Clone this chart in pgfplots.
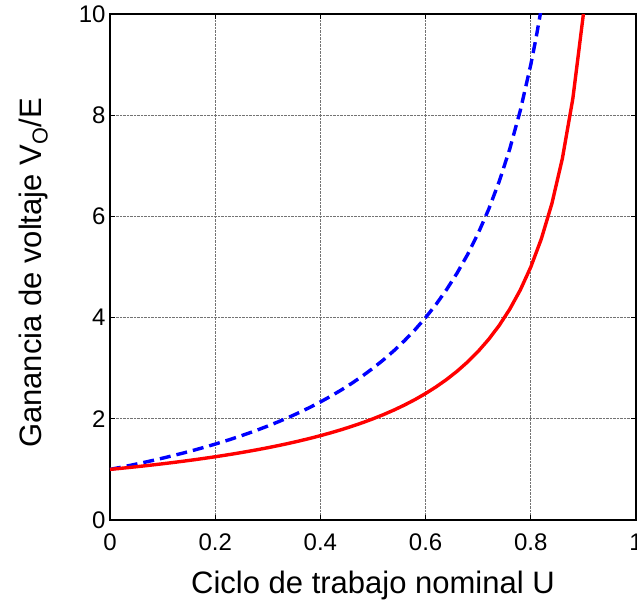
\documentclass[border=0pt]{standalone}
\usepackage{fontspec}
\setmainfont{Liberation Sans}
\usepackage{pgfplots}
\pgfplotsset{compat=1.18}
\begin{document}
\begin{tikzpicture}
\begin{scope}
\clip (-110pt,-80pt) rectangle (527pt,520pt);
\begin{axis}[
  at={(0pt,0pt)}, anchor=south west,
  width=526pt, height=506pt, scale only axis,
  xmin=0, xmax=1, ymin=0, ymax=10,
  xtick={0,0.2,0.4,0.6,0.8,1},
  xticklabels={0,0.2,0.4,0.6,0.8,1},
  ytick={0,2,4,6,8,10},
  yticklabels={0,2,4,6,8,10},
  tick align=inside, tick pos=both,
  major tick length=5pt,
  every tick/.style={black, line width=1pt},
  axis line style={black, line width=1.2pt},
  grid=major,
  major grid style={densely dotted, black!55, line width=0.9pt},
  tick label style={font=\fontsize{24}{28}\selectfont},
  xticklabel style={yshift=-10pt},
  yticklabel style={xshift=-1pt},
  label style={font=\fontsize{31}{36}\selectfont},
  xlabel={Ciclo de trabajo nominal U},
  ylabel={Ganancia de voltaje V\textsubscript{O}/E},
  xlabel style={yshift=-14pt},
  ylabel style={yshift=24pt, xshift=-6pt},
]
\addplot[blue, line width=3.4pt, dash pattern=on 11pt off 6pt] coordinates {
(0,1) (0.02,1.0408) (0.04,1.0833) (0.06,1.1277) (0.08,1.1739) (0.10,1.2222)
(0.12,1.2727) (0.14,1.3256) (0.16,1.3810) (0.18,1.4390) (0.20,1.5)
(0.22,1.5641) (0.24,1.6316) (0.26,1.7027) (0.28,1.7778) (0.30,1.8571)
(0.32,1.9412) (0.34,2.0303) (0.36,2.125) (0.38,2.2258) (0.40,2.3333)
(0.42,2.4483) (0.44,2.5714) (0.46,2.7037) (0.48,2.8462) (0.50,3)
(0.52,3.1667) (0.54,3.3478) (0.56,3.5455) (0.58,3.7619) (0.60,4)
(0.62,4.2632) (0.64,4.5556) (0.66,4.8824) (0.68,5.25) (0.70,5.6667)
(0.72,6.1429) (0.74,6.6923) (0.76,7.3333) (0.78,8.0909) (0.80,9)
(0.81,9.5263) (0.82,10.111)
};
\addplot[red, line width=3.4pt] coordinates {
(0,1) (0.02,1.0204) (0.04,1.0417) (0.06,1.0638) (0.08,1.0870) (0.10,1.1111)
(0.12,1.1364) (0.14,1.1628) (0.16,1.1905) (0.18,1.2195) (0.20,1.25)
(0.22,1.2821) (0.24,1.3158) (0.26,1.3514) (0.28,1.3889) (0.30,1.4286)
(0.32,1.4706) (0.34,1.5152) (0.36,1.5625) (0.38,1.6129) (0.40,1.6667)
(0.42,1.7241) (0.44,1.7857) (0.46,1.8519) (0.48,1.9231) (0.50,2)
(0.52,2.0833) (0.54,2.1739) (0.56,2.2727) (0.58,2.3810) (0.60,2.5)
(0.62,2.6316) (0.64,2.7778) (0.66,2.9412) (0.68,3.125) (0.70,3.3333)
(0.72,3.5714) (0.74,3.8462) (0.76,4.1667) (0.78,4.5455) (0.80,5)
(0.82,5.5556) (0.84,6.25) (0.86,7.1429) (0.88,8.3333) (0.90,10)
};
\end{axis}
\end{scope}
\pgfresetboundingbox
\useasboundingbox (-110pt,-80pt) rectangle (527pt,520pt);
\end{tikzpicture}
\end{document}
